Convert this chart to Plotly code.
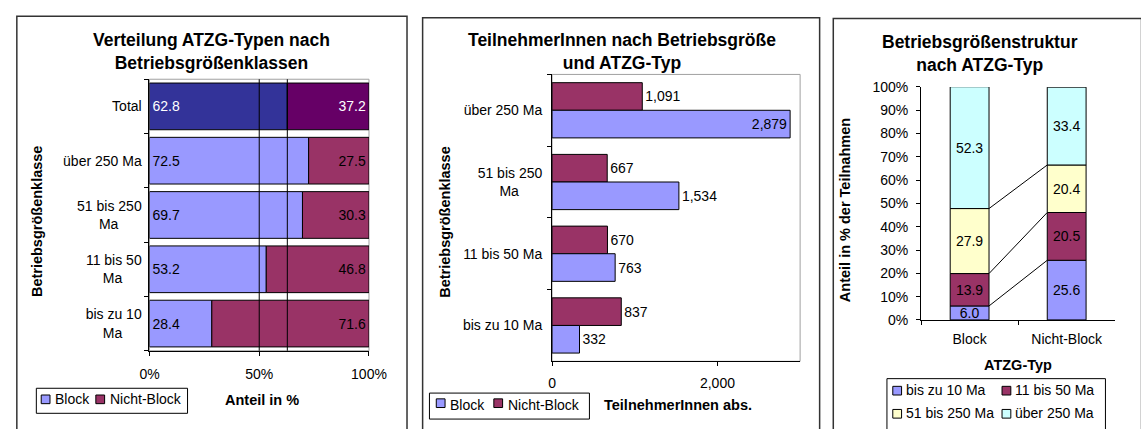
import plotly.graph_objects as go

W, H = 1141, 429
FONT = "Liberation Sans, Arial, sans-serif"
NB = "\u00a0"

# ---------------- data ----------------
# Panel 1: Verteilung ATZG-Typen nach Betriebsgrößenklassen (percent)
p1_categories = ["bis zu 10 Ma", "11 bis 50 Ma", "51 bis 250 Ma", "über 250 Ma", "Total"]
p1_block = [28.4, 53.2, 69.7, 72.5, 62.8]
p1_nicht = [71.6, 46.8, 30.3, 27.5, 37.2]
p1_xticks = [0, 50, 100]
p1_xticktext = ["0%", "50%", "100%"]

# Panel 2: TeilnehmerInnen nach Betriebsgröße und ATZG-Typ (absolute)
p2_categories = ["bis zu 10 Ma", "11 bis 50 Ma", "51 bis 250 Ma", "über 250 Ma"]
p2_block = [332, 763, 1534, 2879]
p2_nicht = [837, 670, 667, 1091]
p2_xticks = [0, 2000]

# Panel 3: Betriebsgrößenstruktur nach ATZG-Typ (percent)
p3_types = ["Block", "Nicht-Block"]
p3_classes = ["bis zu 10 Ma", "11 bis 50 Ma", "51 bis 250 Ma", "über 250 Ma"]
p3_bis10 = [6.0, 25.6]
p3_11_50 = [13.9, 20.5]
p3_51_250 = [27.9, 20.4]
p3_ueber250 = [52.3, 33.4]

series_names = ["Block", "Nicht-Block"]

# tick label layout (wrapped, second line centred under the first)
p1_ticktext = ["bis zu 10<br>Ma" + NB * 5, "11 bis 50<br>Ma" + NB * 5,
               "51 bis 250<br>Ma" + NB * 6, "über 250 Ma", "Total"]
p2_ticktext = ["bis zu 10 Ma", "11 bis 50 Ma", "51 bis 250<br>Ma" + NB * 6, "über 250 Ma"]

# ---------------- styles ----------------
C_BLOCK = "#9999FF"
C_NICHT = "#993366"
C_BLOCK_TOTAL = "#333399"
C_NICHT_TOTAL = "#660066"
C_CLASSES = ["#9999FF", "#993366", "#FFFFCC", "#CCFFFF"]


def X(px):
    return px / W


def Y(py):
    return 1 - py / H


fig = go.Figure()
line = dict(color="black", width=1)

# ---- Panel 1 ----
n1 = len(p1_categories)
blk_colors = [C_BLOCK] * (n1 - 1) + [C_BLOCK_TOTAL]
nb_colors = [C_NICHT] * (n1 - 1) + [C_NICHT_TOTAL]
txt_colors = ["black"] * (n1 - 1) + ["white"]
fig.add_trace(go.Bar(
    y=p1_categories, x=p1_block, orientation="h", name=series_names[0],
    marker=dict(color=blk_colors, line=line), width=0.86, offset=-0.43,
    text=[f"{v:.1f}" for v in p1_block], textposition="inside", insidetextanchor="start",
    textfont=dict(color=txt_colors, size=14, family=FONT),
    xaxis="x", yaxis="y", showlegend=False))
fig.add_trace(go.Bar(
    y=p1_categories, x=p1_nicht, base=p1_block, orientation="h", name=series_names[1],
    marker=dict(color=nb_colors, line=line), width=0.86, offset=-0.43,
    text=[f"{v:.1f}" for v in p1_nicht], textposition="inside", insidetextanchor="end",
    textfont=dict(color=txt_colors, size=14, family=FONT),
    xaxis="x", yaxis="y", showlegend=False))

# ---- Panel 2 ----
bw2 = 0.385
fig.add_trace(go.Bar(
    y=p2_categories, x=p2_nicht, orientation="h", name=series_names[1],
    marker=dict(color=C_NICHT, line=line), width=bw2, offset=0,
    text=[f"{v:,}" for v in p2_nicht], textposition="outside",
    textfont=dict(color="black", size=14, family=FONT), cliponaxis=False,
    xaxis="x2", yaxis="y2", showlegend=False))
fig.add_trace(go.Bar(
    y=p2_categories, x=p2_block, orientation="h", name=series_names[0],
    marker=dict(color=C_BLOCK, line=line), width=bw2, offset=-bw2,
    text=[f"{v:,}" for v in p2_block],
    textposition=["outside", "outside", "outside", "inside"], insidetextanchor="end",
    textfont=dict(color="black", size=14, family=FONT), cliponaxis=False,
    xaxis="x2", yaxis="y2", showlegend=False))

# ---- Panel 3 ----
bw3 = 0.4
p3_series = [p3_bis10, p3_11_50, p3_51_250, p3_ueber250]
base = [0.0] * len(p3_types)
cum = []
for name, vals, col in zip(p3_classes, p3_series, C_CLASSES):
    fig.add_trace(go.Bar(
        x=p3_types, y=vals, base=list(base), name=name,
        marker=dict(color=col, line=line), width=bw3, offset=-bw3 / 2,
        text=[f"{v:.1f}" for v in vals], textposition="inside", insidetextanchor="middle",
        textfont=dict(color="black", size=14, family=FONT),
        xaxis="x3", yaxis="y3", showlegend=False))
    base = [b + v for b, v in zip(base, vals)]
    cum.append(list(base))

shapes = []
# series lines between stacked bars
for c in cum[:-1]:
    shapes.append(dict(type="line", xref="x3", yref="y3", x0=0 + bw3 / 2, x1=1 - bw3 / 2,
                       y0=c[0], y1=c[1], line=dict(color="black", width=1), layer="above"))

# panel 1: gridline at 50% and reference line at total Block share (drawn over bars)
for xv in [p1_xticks[1], p1_block[-1]]:
    shapes.append(dict(type="line", xref="x", yref="y domain", x0=xv, x1=xv,
                       y0=0, y1=1, line=dict(color="black", width=1), layer="above"))

# plot-area borders (grey) for panels 1 and 2
for xr, yr in [("x domain", "y domain"), ("x2 domain", "y2 domain")]:
    shapes.append(dict(type="rect", xref=xr, yref=yr, x0=0, x1=1, y0=0, y1=1,
                       line=dict(color="#A0A0A0", width=1), layer="below"))

# panel frames
for x0, x1, y0 in [(7, 407, 8.5), (423, 830, 10), (844, 1160, 11)]:
    shapes.append(dict(type="rect", xref="paper", yref="paper", x0=X(x0), x1=X(x1),
                       y0=Y(445), y1=Y(y0), line=dict(color="#333333", width=1.5)))

annotations = []


def ann(text, x, y, size=14, bold=False, angle=0, xanchor="center"):
    annotations.append(dict(
        text=f"<b>{text}</b>" if bold else text, x=X(x), y=Y(y), xref="paper", yref="paper",
        showarrow=False, xanchor=xanchor, yanchor="middle", textangle=angle,
        font=dict(size=size, family=FONT, color="black")))


# titles
ann("Verteilung ATZG-Typen nach<br>Betriebsgrößenklassen", 207, 45, size=17.5, bold=True)
ann("TeilnehmerInnen nach Betriebsgröße<br>und ATZG-Typ", 627, 45.5, size=17.5, bold=True)
ann("Betriebsgrößenstruktur<br>nach ATZG-Typ", 994, 47, size=17.5, bold=True)
# axis titles
ann("Betriebsgrößenklasse", 27, 221, size=14.5, bold=True, angle=-90)
ann("Betriebsgrößenklasse", 446, 222, size=14.5, bold=True, angle=-90)
ann("Anteil in % der Teilnahmen", 856, 210, size=14.5, bold=True, angle=-90)
ann("Anteil in %", 258, 407, size=14.5, bold=True)
ann("TeilnehmerInnen abs.", 685, 412, size=14.5, bold=True)
ann("ATZG-Typ", 1033, 371, size=14.5, bold=True)


# legends (boxed, Excel style)
def legend_box(x0, y0, x1, y1):
    shapes.append(dict(type="rect", xref="paper", yref="paper", x0=X(x0), x1=X(x1),
                       y0=Y(y1), y1=Y(y0), line=dict(color="black", width=1), fillcolor="white"))


def legend_item(name, color, sx, sy, tx, ty):
    shapes.append(dict(type="rect", xref="paper", yref="paper", x0=X(sx), x1=X(sx + 9),
                       y0=Y(sy + 9), y1=Y(sy), line=dict(color="black", width=1), fillcolor=color))
    ann(name, tx, ty, size=14, xanchor="left")


legend_box(27, 395, 182, 421)
legend_item(series_names[0], C_BLOCK, 32, 402, 44, 406)
legend_item(series_names[1], C_NICHT, 88, 402, 100, 406)

legend_box(430, 400, 594, 427)
legend_item(series_names[0], C_BLOCK, 437, 406, 449, 412)
legend_item(series_names[1], C_NICHT, 496, 406, 508, 412)

legend_box(899, 385, 1123, 445)
legend_item(p3_classes[0], C_CLASSES[0], 905, 393, 917, 397)
legend_item(p3_classes[1], C_CLASSES[1], 1017, 393, 1028, 397)
legend_item(p3_classes[2], C_CLASSES[2], 905, 417, 917, 421)
legend_item(p3_classes[3], C_CLASSES[3], 1017, 417, 1028, 421)

tickfont = dict(size=14, family=FONT, color="black")
common = dict(showline=True, linecolor="black", linewidth=1, ticks="outside", ticklen=4,
              tickcolor="black", tickfont=tickfont, zeroline=False, fixedrange=True)

fig.update_layout(
    width=W, height=H, margin=dict(l=0, r=0, t=0, b=0),
    paper_bgcolor="white", plot_bgcolor="white",
    font=dict(family=FONT, size=14, color="black"),
    uniformtext=dict(minsize=14, mode="show"),
    showlegend=False,
    xaxis=dict(domain=[X(143), X(368)], anchor="y", range=[0, 100], tickmode="array",
               tickvals=p1_xticks, ticktext=p1_xticktext, showgrid=False,
               ticklabelstandoff=6, **common),
    yaxis=dict(domain=[Y(356), Y(74)], anchor="x", type="category", tickmode="array",
               tickvals=p1_categories, ticktext=p1_ticktext, tickson="boundaries",
               showgrid=False, ticklabelstandoff=4, **common),
    xaxis2=dict(domain=[X(555.7), X(810)], anchor="y2", range=[0, 3000], tickvals=p2_xticks,
                tickformat=",", showgrid=False, ticklabelstandoff=5, **common),
    yaxis2=dict(domain=[Y(367), Y(69)], anchor="x2", type="category", tickmode="array",
                tickvals=p2_categories, ticktext=p2_ticktext, tickson="boundaries",
                showgrid=False, ticklabelstandoff=6, **common),
    xaxis3=dict(domain=[X(934), X(1133)], anchor="y3", type="category", tickson="boundaries",
                showgrid=False, ticklabelstandoff=6, **common),
    yaxis3=dict(domain=[Y(324), Y(82)], anchor="x3", range=[0, 100], dtick=10,
                ticksuffix="%", showgrid=False, ticklabelstandoff=5, **common),
    shapes=shapes, annotations=annotations,
)

fig.write_html("out.html", config={"displayModeBar": False},
               post_script="document.body.style.margin='0';document.body.style.overflow='hidden';")
